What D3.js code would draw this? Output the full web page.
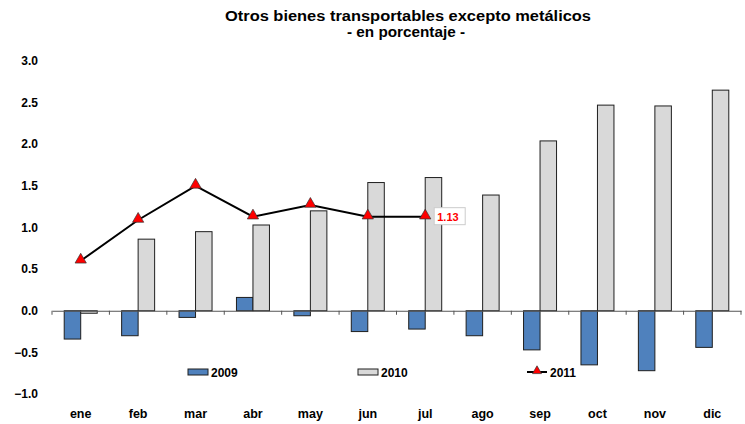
<!DOCTYPE html>
<html>
<head>
<meta charset="utf-8">
<script src="https://cdn.jsdelivr.net/npm/d3@7"></script>
<style>
  body { margin: 0; background: #fff; }
  svg { font-family: "Liberation Sans", Arial, sans-serif; }
</style>
</head>
<body>
<div id="chart"></div>
<script>
// data
var months = ['ene', 'feb', 'mar', 'abr', 'may', 'jun', 'jul', 'ago', 'sep', 'oct', 'nov', 'dic'];
var y2009 = [-0.34, -0.30, -0.08, 0.16, -0.06, -0.25, -0.22, -0.30, -0.47, -0.65, -0.72, -0.44];
var y2010 = [-0.03, 0.86, 0.95, 1.03, 1.20, 1.54, 1.60, 1.39, 2.04, 2.47, 2.46, 2.65];
var y2011 = [0.60, 1.09, 1.50, 1.13, 1.27, 1.13, 1.13];
var yTicks = [-1.0, -0.5, 0.0, 0.5, 1.0, 1.5, 2.0, 2.5, 3.0];

var width = 745, height = 424;
var plotLeft = 52, plotRight = 741;
var plotTop = 61, plotBottom = 394;

var svg = d3.select("#chart").append("svg")
    .attr("width", width)
    .attr("height", height);

// title (the original is a bit stretched sideways)
svg.append("text")
    .attr("x", 408).attr("y", 21)
    .attr("text-anchor", "middle")
    .attr("font-size", "14.5px").attr("font-weight", "bold")
    .attr("textLength", 366).attr("lengthAdjust", "spacingAndGlyphs")
    .text("Otros bienes transportables excepto metálicos");
svg.append("text")
    .attr("x", 406).attr("y", 37)
    .attr("text-anchor", "middle")
    .attr("font-size", "14.5px").attr("font-weight", "bold")
    .attr("textLength", 118).attr("lengthAdjust", "spacingAndGlyphs")
    .text("- en porcentaje -");

var x = d3.scaleBand().domain(months).range([plotLeft, plotRight]);
var y = d3.scaleLinear().domain([-1, 3]).range([plotBottom, plotTop]);
var barW = 16.5;

// y tick labels (no axis line)
svg.append("g")
    .selectAll("text")
    .data(yTicks)
    .enter()
    .append("text")
    .attr("x", 38)
    .attr("y", function (d) { return y(d); })
    .attr("dy", "0.35em")
    .attr("text-anchor", "end")
    .attr("font-size", "12px").attr("font-weight", "bold")
    .text(function (d) { return d3.format(".1f")(d); });

// x labels
svg.append("g")
    .selectAll("text")
    .data(months)
    .enter()
    .append("text")
    .attr("x", function (d) { return x(d) + x.bandwidth() / 2; })
    .attr("y", 418)
    .attr("text-anchor", "middle")
    .attr("font-size", "12.5px").attr("font-weight", "bold")
    .text(function (d) { return d; });

// bars 2009
svg.append("g")
    .selectAll("rect")
    .data(y2009)
    .enter()
    .append("rect")
    .attr("x", function (d, i) { return x(months[i]) + x.bandwidth() / 2 - barW; })
    .attr("y", function (d) { return y(Math.max(0, d)); })
    .attr("width", barW)
    .attr("height", function (d) { return Math.abs(y(d) - y(0)); })
    .attr("fill", "#4f81bd")
    .attr("stroke", "#1f1f1f")
    .attr("stroke-width", 1);

// bars 2010
svg.append("g")
    .selectAll("rect")
    .data(y2010)
    .enter()
    .append("rect")
    .attr("x", function (d, i) { return x(months[i]) + x.bandwidth() / 2; })
    .attr("y", function (d) { return y(Math.max(0, d)); })
    .attr("width", barW)
    .attr("height", function (d) { return Math.abs(y(d) - y(0)); })
    .attr("fill", "#d9d9d9")
    .attr("stroke", "#1f1f1f")
    .attr("stroke-width", 1);

// x axis line with ticks at category boundaries
var xAxis = d3.axisBottom(x).tickSize(0).tickFormat("");
svg.append("g")
    .attr("transform", "translate(0," + y(0) + ")")
    .call(xAxis)
    .call(function (g) { g.select(".domain").attr("stroke", "#555"); });
svg.append("g")
    .selectAll("line")
    .data(months.concat(["end"]))
    .enter()
    .append("line")
    .attr("x1", function (d, i) { return plotLeft + i * x.bandwidth(); })
    .attr("x2", function (d, i) { return plotLeft + i * x.bandwidth(); })
    .attr("y1", y(0))
    .attr("y2", y(0) + 4)
    .attr("stroke", "#555");

// 2011 line
var line = d3.line()
    .x(function (d, i) { return x(months[i]) + x.bandwidth() / 2; })
    .y(function (d) { return y(d); });
svg.append("path")
    .datum(y2011)
    .attr("d", line)
    .attr("fill", "none")
    .attr("stroke", "#000")
    .attr("stroke-width", 2);

var tri = d3.symbol().type(d3.symbolTriangle).size(55);
svg.append("g")
    .selectAll("path")
    .data(y2011)
    .enter()
    .append("path")
    .attr("d", tri)
    .attr("transform", function (d, i) { return "translate(" + (x(months[i]) + x.bandwidth() / 2) + "," + (y(d) - 1) + ")"; })
    .attr("fill", "#ff0000")
    .attr("stroke", "#333")
    .attr("stroke-width", 0.7);

// last value label
var lastI = y2011.length - 1;
var lx = x(months[lastI]) + x.bandwidth() / 2 + 9;
var ly = y(y2011[lastI]);
svg.append("rect")
    .attr("x", lx).attr("y", ly - 9)
    .attr("width", 31).attr("height", 17)
    .attr("fill", "#fff")
    .attr("stroke", "#ccc");
svg.append("text")
    .attr("x", lx + 3).attr("y", ly)
    .attr("dy", "0.35em")
    .attr("fill", "#ff0000")
    .attr("font-size", "11px").attr("font-weight", "bold")
    .text(d3.format(".2f")(y2011[lastI]));

// legend
var legend = svg.append("g").attr("font-size", "12px").attr("font-weight", "bold");
legend.append("rect").attr("x", 188).attr("y", 369).attr("width", 20).attr("height", 6)
    .attr("fill", "#4f81bd").attr("stroke", "#1f1f1f");
legend.append("text").attr("x", 211).attr("y", 377).text("2009");
legend.append("rect").attr("x", 358).attr("y", 369).attr("width", 20).attr("height", 6)
    .attr("fill", "#d9d9d9").attr("stroke", "#1f1f1f");
legend.append("text").attr("x", 381).attr("y", 377).text("2010");
legend.append("line").attr("x1", 527).attr("x2", 547).attr("y1", 372).attr("y2", 372)
    .attr("stroke", "#000").attr("stroke-width", 2);
legend.append("path").attr("d", d3.symbol().type(d3.symbolTriangle).size(35))
    .attr("transform", "translate(537,371)")
    .attr("fill", "#ff0000").attr("stroke", "#333").attr("stroke-width", 0.7);
legend.append("text").attr("x", 550).attr("y", 377).text("2011");
</script>
</body>
</html>
